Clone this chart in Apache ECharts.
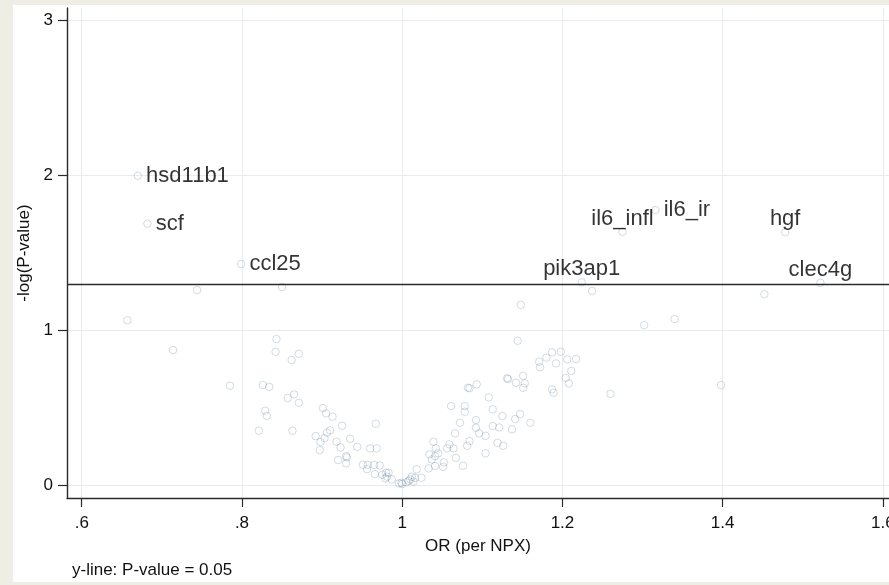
<!DOCTYPE html>
<html>
<head>
<meta charset="utf-8">
<script src="https://cdn.jsdelivr.net/npm/echarts@6/dist/echarts.min.js"></script>
<style>
  html, body { margin: 0; padding: 0; background: #efeee4; }
  #chart { width: 889px; height: 585px; }
</style>
</head>
<body>
<div id="chart"></div>
<script>
// proteins without a label: OR per NPX and -log10(p)
const orValues = [
  0.744, 0.850, 0.657, 0.843, 0.714, 0.842, 0.871, 0.862, 0.785, 0.826,
  0.834, 0.865, 0.857, 0.871, 0.829, 0.831, 0.821, 0.863, 0.901, 0.905,
  0.913, 0.925, 0.967, 0.892, 0.906, 0.910, 0.903, 0.898, 0.897, 0.918,
  0.923, 0.935, 0.944, 0.920, 0.930, 0.931, 0.930, 0.960, 0.968, 0.951,
  0.957, 0.965, 0.972, 0.956, 0.966, 0.975, 0.980, 0.983, 0.979, 0.981,
  0.987, 0.996, 0.999, 1.000, 1.005, 1.010, 1.012, 1.014, 1.008, 1.018,
  1.024, 1.016, 1.039, 1.042, 1.045, 1.034, 1.037, 1.041, 1.033, 1.041,
  1.051, 1.052, 1.059, 1.056, 1.064, 1.067, 1.076, 1.061, 1.066, 1.072,
  1.078, 1.078, 1.084, 1.081, 1.082, 1.084, 1.093, 1.092, 1.092, 1.096,
  1.104, 1.104, 1.108, 1.113, 1.113, 1.121, 1.119, 1.126, 1.125, 1.132,
  1.137, 1.141, 1.142, 1.147, 1.151, 1.153, 1.151, 1.144, 1.160, 1.171,
  1.172, 1.180, 1.187, 1.192, 1.198, 1.206, 1.204, 1.208, 1.187, 1.189,
  1.217, 1.211, 1.131, 1.260, 1.148, 1.237, 1.302, 1.340, 1.452, 1.398
];
const logP = [
  1.261, 1.281, 1.066, 0.945, 0.874, 0.863, 0.850, 0.810, 0.644, 0.648,
  0.637, 0.588, 0.565, 0.534, 0.483, 0.450, 0.354, 0.354, 0.500, 0.466,
  0.444, 0.386, 0.399, 0.319, 0.341, 0.356, 0.306, 0.281, 0.229, 0.283,
  0.246, 0.302, 0.250, 0.165, 0.190, 0.182, 0.143, 0.240, 0.240, 0.134,
  0.134, 0.134, 0.130, 0.106, 0.074, 0.070, 0.083, 0.083, 0.046, 0.057,
  0.040, 0.014, 0.018, 0.010, 0.021, 0.040, 0.057, 0.025, 0.030, 0.105,
  0.050, 0.050, 0.283, 0.240, 0.208, 0.201, 0.169, 0.190, 0.111, 0.126,
  0.121, 0.150, 0.266, 0.240, 0.240, 0.179, 0.128, 0.513, 0.337, 0.405,
  0.513, 0.476, 0.287, 0.257, 0.631, 0.628, 0.653, 0.423, 0.373, 0.337,
  0.321, 0.208, 0.569, 0.492, 0.384, 0.375, 0.276, 0.257, 0.448, 0.687,
  0.363, 0.429, 0.663, 0.461, 0.708, 0.659, 0.631, 0.934, 0.405, 0.799,
  0.763, 0.825, 0.859, 0.788, 0.863, 0.814, 0.695, 0.659, 0.621, 0.599,
  0.816, 0.739, 0.692, 0.592, 1.166, 1.255, 1.035, 1.074, 1.234, 0.648
];

// labelled proteins
const geneNames = ['hsd11b1', 'scf', 'ccl25', 'il6_infl', 'il6_ir', 'hgf', 'pik3ap1', 'clec4g'];
const geneOR = [0.670, 0.682, 0.799, 1.275, 1.316, 1.478, 1.224, 1.522];
const geneLogP = [1.998, 1.689, 1.429, 1.637, 1.777, 1.634, 1.311, 1.308];

const xTicks = [0.6, 0.8, 1, 1.2, 1.4, 1.6];
const yTicks = [0, 1, 2, 3];
const pLine = 0.05;

// where each marker label sits (default: right of the marker)
const labelSide = { il6_infl: 'top', hgf: 'top', pik3ap1: 'top', clec4g: 'top' };

const FONT = '"Liberation Sans", Arial, sans-serif';
const markerStyle = { color: 'rgba(0,0,0,0)', borderColor: 'rgba(26,71,111,0.24)', borderWidth: 1 };

const chart = echarts.init(document.getElementById('chart'));

chart.setOption({
  backgroundColor: '#efeee4',
  animation: false,
  textStyle: { fontFamily: FONT },
  graphic: [
    { type: 'rect', z: -10, shape: { x: 13, y: 5, width: 890, height: 577 }, style: { fill: '#ffffff' } },
    { type: 'text', left: 72, top: 562,
      style: { text: 'y-line: P-value = ' + pLine, font: '17px ' + FONT, fill: '#111' } }
  ],
  grid: { left: 67, top: 8, right: 0, bottom: 87, outerBoundsMode: 'none', containLabel: false },
  xAxis: {
    type: 'value',
    min: 0.5816,
    max: 1.6076,
    name: 'OR (per NPX)',
    nameLocation: 'middle',
    nameGap: 40,
    nameTextStyle: { fontSize: 17, color: '#111', fontFamily: FONT },
    axisLine: { show: true, onZero: false, lineStyle: { color: '#2a2a2a', width: 1.4 } },
    axisTick: { show: true, length: 9, customValues: xTicks, lineStyle: { color: '#2a2a2a', width: 1.2 } },
    axisLabel: {
      customValues: xTicks, margin: 17, fontSize: 17, color: '#111', fontFamily: FONT,
      formatter: v => String(v).replace(/^0\./, '.')
    },
    splitLine: { show: true, lineStyle: { color: '#e9ecef', width: 1 } }
  },
  yAxis: {
    type: 'value',
    min: -0.08,
    max: 3.08,
    name: '-log(P-value)',
    nameLocation: 'middle',
    nameGap: 33,
    nameTextStyle: { fontSize: 17, color: '#111', fontFamily: FONT },
    axisLine: { show: true, onZero: false, lineStyle: { color: '#2a2a2a', width: 1.4 } },
    axisTick: { show: true, length: 9, customValues: yTicks, lineStyle: { color: '#2a2a2a', width: 1.2 } },
    axisLabel: { customValues: yTicks, margin: 14, fontSize: 17, color: '#111', fontFamily: FONT },
    splitLine: { show: true, lineStyle: { color: '#e9ecef', width: 1 } }
  },
  series: [
    {
      name: 'proteins',
      type: 'scatter',
      symbol: 'circle',
      symbolSize: 7.5,
      itemStyle: markerStyle,
      data: orValues.map((x, i) => [x, logP[i]]),
      markLine: {
        silent: true,
        symbol: 'none',
        label: { show: false },
        lineStyle: { color: '#2a2a2a', width: 1.3, type: 'solid' },
        data: [{ yAxis: -Math.log10(pLine) }]
      }
    },
    {
      name: 'labelled',
      type: 'scatter',
      symbol: 'circle',
      symbolSize: 7.5,
      itemStyle: markerStyle,
      data: geneNames.map((g, i) => ({
        value: [geneOR[i], geneLogP[i]],
        label: {
          show: true,
          formatter: g,
          position: labelSide[g] || 'right',
          distance: labelSide[g] ? -2 : 4,
          fontSize: 22,
          color: '#000',
          fontFamily: FONT
        }
      }))
    }
  ]
});
</script>
</body>
</html>
